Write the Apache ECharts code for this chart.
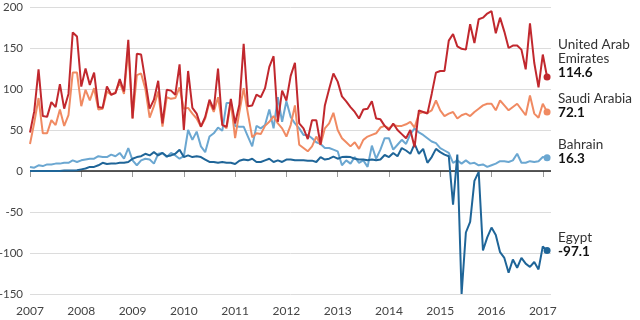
<!DOCTYPE html>
<html>
<head>
<meta charset="utf-8">
<script src="https://cdn.jsdelivr.net/npm/echarts@6/dist/echarts.min.js"></script>
<style>
html,body{margin:0;padding:0;background:#fff;}
#chart{width:640px;height:320px;}
</style>
</head>
<body>
<div id="chart"></div>
<script>
// Monthly values, Jan 2007 .. Feb 2017
const startYear = 2007;
const uae = [47,73,124,67,66,84,78,106,76,94,
  169,164,103,125,105,120,78,77,103,93,
  95,112,97,160,64,143,142,110,76,87,
  110,58,99,98,93,130,50,122,77,70,
  54,66,87,75,125,56,54,88,58,81,
  155,79,80,93,90,101,127,140,60,98,
  86,116,132,58,52,39,62,62,32,80,
  100,119,109,91,85,78,72,64,75,76,
  85,64,63,55,50,58,50,45,40,50,
  29,74,72,70,94,120,122,122,159,167,
  152,149,148,179,156,185,187,192,195,168,
  187,170,150,153,153,148,124,180,132,102,
  142,114.6];
const saudi = [33,59,89,46,46,62,56,75,55,68,
  120,120,79,99,86,101,75,76,97,93,
  96,108,94,150,64,117,119,100,65,79,
  97,54,90,88,89,102,76,77,70,64,
  54,64,84,72,90,57,52,84,40,72,
  101,70,41,46,45,55,60,67,58,52,
  42,56,80,32,28,24,30,42,32,52,
  58,71,50,40,35,30,35,27,38,42,
  44,46,53,55,52,56,55,55,57,60,
  53,70,72,71,74,86,74,67,70,72,
  64,68,70,67,72,76,80,82,82,74,
  86,80,74,78,82,75,68,92,70,65,
  82,72.1];
const bahrain = [5,4,7,6,8,8,9,9,10,10,
  13,11,13,14,15,15,18,17,17,20,
  18,22,15,28,13,7,13,15,14,9,
  21,22,17,22,19,15,18,50,38,48,
  30,23,42,46,53,49,83,83,55,54,
  54,42,30,55,52,56,75,52,90,60,
  85,66,58,52,44,44,40,35,33,28,
  28,26,24,7,13,9,17,10,13,5,
  31,15,26,40,40,26,32,38,33,45,
  52,47,44,40,36,34,28,25,22,10,
  13,9,13,9,10,7,8,5,7,9,
  12,12,11,13,21,10,10,12,11,12,
  17,16.3];
const egypt = [0,0,0,0,0,0,0,0,0.5,0.5,
  0.5,1,2,3,5,5,7,10,8.5,9,
  9,10,10,11,15,17,18,21,19,23,
  19,22,18,19,21,26,17,19,17,18,
  17,14,11,11,10,11,10,10,8.5,12.6,
  14,13,15,11,11,13,15,11,13,11,
  14,14,13,13,13,12.6,12.6,11,17,14,
  15,17.5,15,17,17.5,17,15,14,14,13,
  14,13,14,19.5,17,22,18,28,25,21,
  33,21,27,10,17,27,23,20,18,-41,
  20,-150,-75,-62,-12,-1,-97,-81,-69,-78,
  -99,-106,-124,-108,-118,-106,-113,-117,-111,-120,
  -92,-97.1];

const seriesNames = ['Bahrain', 'Egypt', 'Saudi Arabia', 'United Arab Emirates'];
const labelLines = [['Bahrain'], ['Egypt'], ['Saudi Arabia'], ['United Arab', 'Emirates']];
const seriesValues = [bahrain, egypt, saudi, uae];
const colors = ['#6ba7d1', '#1f6598', '#f08a62', '#c1282e'];
const labelShift = [1, 1, 1, -4];

const xTicks = {min: 2007, max: 2017.16, interval: 1};
const yTicks = {min: -150, max: 200, interval: 50};

const series = seriesValues.map((vals, s) => {
  const last = vals.length - 1;
  return {
    name: seriesNames[s],
    type: 'line',
    data: vals.map((v, i) => [startYear + i / 12, v]),
    showSymbol: true,
    symbol: 'circle',
    symbolSize: (v, p) => (p.dataIndex === last ? 7 : 0),
    lineStyle: {width: 2, color: colors[s]},
    itemStyle: {color: colors[s]},
    emphasis: {disabled: true},
    z: 2 + s,
    endLabel: {
      show: true,
      distance: 11,
      verticalAlign: 'bottom',
      offset: [0, 7 + labelShift[s]],
      formatter: (p) => labelLines[s].map(t => '{n|' + t + '}').join('\n') + '\n{v|' + p.value[1] + '}',
      rich: {
        n: {fontFamily: 'Lato', fontSize: 13.5, color: '#333', lineHeight: 14},
        v: {fontFamily: 'Lato', fontSize: 13.5, fontWeight: 'bold', color: '#111', lineHeight: 14}
      }
    },
    markLine: s === 0 ? {
      silent: true,
      symbol: 'none',
      label: {show: false},
      lineStyle: {color: '#222', width: 1.5, type: 'solid'},
      data: [{yAxis: 0}],
      z: 1
    } : undefined
  };
});

const chart = echarts.init(document.getElementById('chart'), null, {renderer: 'canvas'});
chart.setOption({
  animation: false,
  backgroundColor: '#fff',
  grid: {left: 30, right: 89, top: 7, bottom: 26, containLabel: false, outerBoundsMode: 'none'},
  xAxis: {
    type: 'value',
    min: xTicks.min, max: xTicks.max, interval: xTicks.interval,
    axisLine: {show: false},
    axisTick: {show: true, length: 6, lineStyle: {color: '#999'}},
    splitLine: {show: false},
    axisLabel: {
      margin: 11,
      color: '#444', fontFamily: 'Lato', fontSize: 12,
      formatter: (v) => String(Math.round(v))
    }
  },
  yAxis: {
    type: 'value',
    min: yTicks.min, max: yTicks.max, interval: yTicks.interval,
    axisLine: {show: false},
    axisTick: {show: false},
    splitLine: {lineStyle: {color: '#dcdcdc', width: 1}},
    axisLabel: {
      margin: 7, color: '#444', fontFamily: 'Lato', fontSize: 11.5,
      overflow: 'none', width: 40,
      formatter: (v) => (v < 0 ? '-' + Math.abs(v) : String(v))
    }
  },
  series: series
});
</script>
</body>
</html>
